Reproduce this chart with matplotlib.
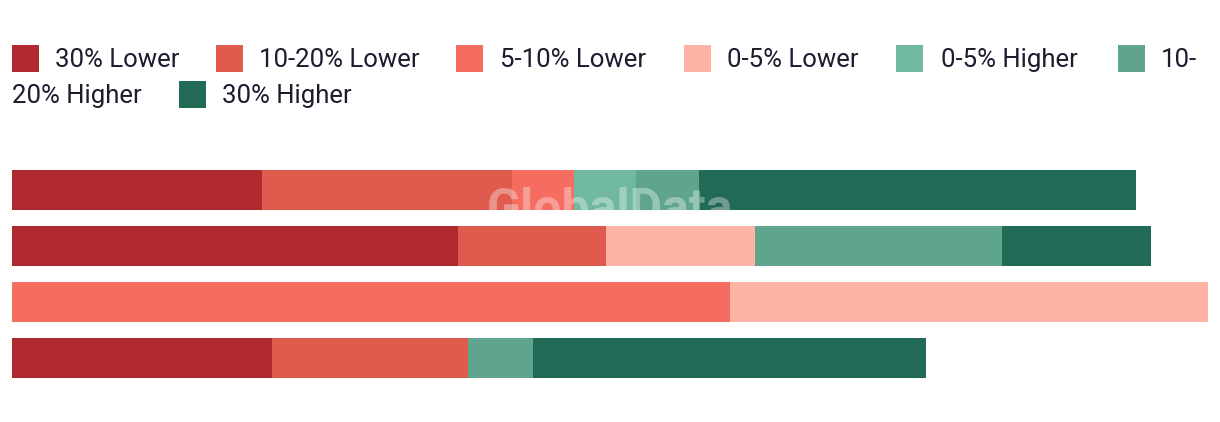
import matplotlib.pyplot as plt
from matplotlib.patches import Rectangle
import numpy as np

# Categories (stack order) and colours
categories = ["30% Lower", "10-20% Lower", "5-10% Lower", "0-5% Lower",
              "0-5% Higher", "10-20% Higher", "30% Higher"]
colors = ["#b0292e", "#e05a4e", "#f46d60", "#fdb4a5",
          "#70b89e", "#5fa58e", "#216a56"]

# Share per bar (top to bottom), one list per category
lower_30 = [20.9, 37.3, 0, 21.7]
lower_10_20 = [20.9, 12.4, 0, 16.4]
lower_5_10 = [5.2, 0, 60.0, 0]
lower_0_5 = [0, 12.4, 40.0, 0]
higher_0_5 = [5.2, 0, 0, 0]
higher_10_20 = [5.2, 20.7, 0, 5.5]
higher_30 = [36.6, 12.4, 0, 32.8]

series = [lower_30, lower_10_20, lower_5_10, lower_0_5,
          higher_0_5, higher_10_20, higher_30]

plt.rcParams['font.family'] = ['Roboto', 'DejaVu Sans']
text_color = "#1c1c2e"

fig = plt.figure(figsize=(12.2, 4.22), dpi=100)
W, H = 1220, 422

# bar area
ax = fig.add_axes([12 / W, 1 - 386 / H, (1208 - 12) / W, 224 / H])
y = np.arange(len(lower_30))
left = np.zeros(len(y))
for vals, col in zip(series, colors):
    vals = np.array(vals, dtype=float)
    ax.barh(y, vals, left=left, height=40 / 56, color=col, linewidth=0)
    left += vals
ax.set_xlim(0, 100)
ax.set_ylim(3.5, -0.5)
ax.axis("off")

# legend drawn manually to copy the wrapped layout
lax = fig.add_axes([0, 0, 1, 1], zorder=5)
lax.set_xlim(0, W)
lax.set_ylim(H, 0)
lax.axis("off")

# (square x, text x, row y, label)
legend_items = [
    (12, 55, 58, categories[0]),
    (216, 259, 58, categories[1]),
    (456, 500, 58, categories[2]),
    (684, 727, 58, categories[3]),
    (896, 941, 58, categories[4]),
    (1118, 1161, 58, "10-"),
    (179, 222, 94, categories[6]),
]
fs = 18.5
for (sx, tx, ry, lab), col in zip(legend_items, colors):
    lax.add_patch(Rectangle((sx, ry - 13), 27, 27, color=col, linewidth=0))
    lax.text(tx, ry + 2, lab, fontsize=fs, color=text_color, va="center", ha="left")
lax.text(12, 96, "20% Higher", fontsize=fs, color=text_color, va="center", ha="left")

# watermark
lax.text(610, 224, "GlobalData", fontsize=36, fontweight="bold",
         color="#ffffff", alpha=0.35, ha="center", va="baseline")

fig.savefig("out.png", dpi=100)
